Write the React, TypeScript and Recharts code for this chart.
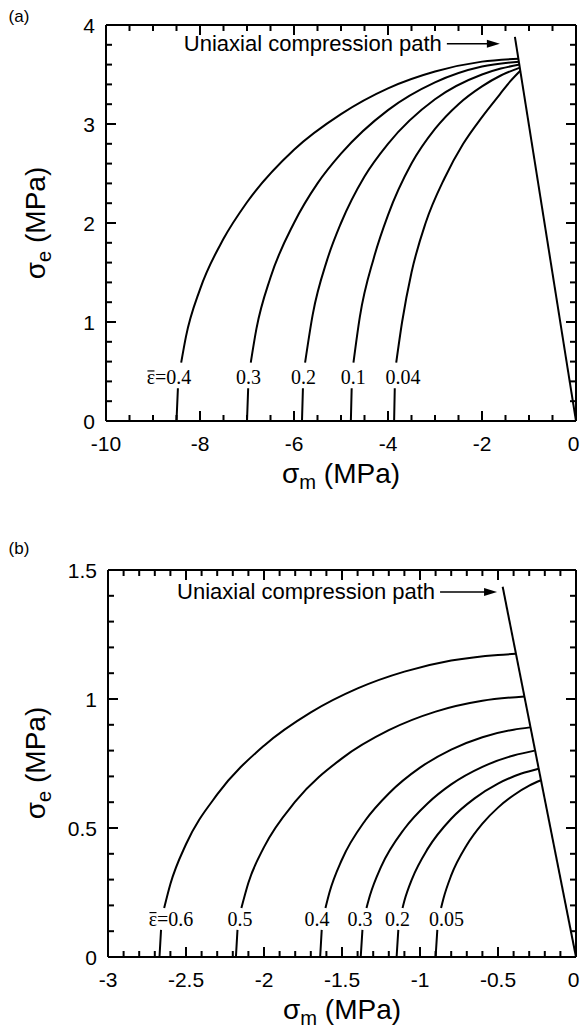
import { LineChart, Line, XAxis, YAxis, ReferenceDot } from 'recharts';

type Pt = [number, number] | null;

// ---- panel (a) ----
const aStrain = ['0.4', '0.3', '0.2', '0.1', '0.04'];
const aCurve04: Pt[] = [
  [-8.5, 0], [-8.47, 0.33], null, [-8.4, 0.59], [-8.3, 0.85], [-8.0, 1.33], [-7.5, 1.84],
  [-7.0, 2.21], [-6.0, 2.74], [-5.0, 3.1], [-4.0, 3.36], [-3.0, 3.53], [-2.0, 3.63], [-1.22, 3.66],
];
const aCurve03: Pt[] = [
  [-7.0, 0], [-6.975, 0.33], null, [-6.92, 0.59], [-6.8, 0.93], [-6.5, 1.45], [-6.0, 2.0],
  [-5.5, 2.4], [-5.0, 2.7], [-4.0, 3.14], [-3.0, 3.42], [-2.0, 3.58], [-1.21, 3.63],
];
const aCurve02: Pt[] = [
  [-5.83, 0], [-5.81, 0.33], null, [-5.764, 0.59], [-5.6, 1.08], [-5.3, 1.62], [-5.0, 2.0],
  [-4.5, 2.47], [-4.0, 2.8], [-3.0, 3.25], [-2.0, 3.5], [-1.6, 3.56], [-1.2, 3.6],
];
const aCurve01: Pt[] = [
  [-4.79, 0], [-4.773, 0.33], null, [-4.735, 0.59], [-4.6, 1.05], [-4.3, 1.65], [-4.0, 2.08],
  [-3.5, 2.6], [-3.0, 2.95], [-2.5, 3.2], [-2.0, 3.38], [-1.6, 3.49], [-1.19, 3.57],
];
const aCurve004: Pt[] = [
  [-3.87, 0], [-3.856, 0.33], null, [-3.825, 0.59], [-3.7, 1.0], [-3.5, 1.5], [-3.2, 2.0],
  [-2.8, 2.45], [-2.4, 2.8], [-2.0, 3.07], [-1.62, 3.3], [-1.4, 3.43], [-1.18, 3.54],
];
const aLabelX = [-8.66, -6.97, -5.8, -4.74, -3.68];
const aLabelY = 0.44;
const aPath: Pt[] = [[0, 0], [-1.3, 3.88]];
const aNote = [-1.62, 3.81];
const aXMajor = [-10, -8, -6, -4, -2, 0];
const aYMajor = [0, 1, 2, 3, 4];

// ---- panel (b) ----
const bStrain = ['0.6', '0.5', '0.4', '0.3', '0.2', '0.05'];
const bCurve06: Pt[] = [
  [-2.67, 0], [-2.66, 0.105], null, [-2.64, 0.19], [-2.6, 0.283], [-2.5, 0.437], [-2.3, 0.63],
  [-2.0, 0.819], [-1.7, 0.948], [-1.4, 1.041], [-1.1, 1.106], [-0.8, 1.149], [-0.5, 1.171], [-0.385, 1.175],
];
const bCurve05: Pt[] = [
  [-2.18, 0], [-2.17, 0.105], null, [-2.145, 0.19], [-2.1, 0.288], [-2.0, 0.426], [-1.8, 0.602],
  [-1.5, 0.77], [-1.2, 0.879], [-0.9, 0.951], [-0.6, 0.993], [-0.33, 1.01],
];
const bCurve04: Pt[] = [
  [-1.64, 0], [-1.63, 0.105], null, [-1.606, 0.19], [-1.58, 0.251], [-1.5, 0.378], [-1.35, 0.53],
  [-1.2, 0.634], [-1.0, 0.734], [-0.8, 0.804], [-0.6, 0.852], [-0.4, 0.881], [-0.295, 0.89],
];
const bCurve03: Pt[] = [
  [-1.38, 0], [-1.369, 0.105], null, [-1.343, 0.19], [-1.32, 0.24], [-1.25, 0.349], [-1.1, 0.497],
  [-0.95, 0.596], [-0.8, 0.669], [-0.6, 0.737], [-0.4, 0.781], [-0.265, 0.8],
];
const bCurve02: Pt[] = [
  [-1.15, 0], [-1.139, 0.105], null, [-1.112, 0.19], [-1.1, 0.218], [-1.05, 0.304], [-0.95, 0.42],
  [-0.8, 0.536], [-0.65, 0.615], [-0.5, 0.672], [-0.35, 0.711], [-0.24, 0.73],
];
const bCurve005: Pt[] = [
  [-0.9, 0], [-0.889, 0.105], null, [-0.865, 0.19], [-0.85, 0.226], [-0.8, 0.316], [-0.7, 0.434],
  [-0.6, 0.517], [-0.5, 0.579], [-0.4, 0.627], [-0.3, 0.664], [-0.225, 0.685],
];
const bLabelX = [-2.596, -2.154, -1.66, -1.385, -1.144, -0.83];
const bLabelY = 0.147;
const bPath: Pt[] = [[0, 0], [-0.47, 1.435]];
const bNote = [-0.506, 1.415];
const bXMajor = [-3, -2.5, -2, -1.5, -1, -0.5, 0];
const bYMajor = [0, 0.5, 1, 1.5];

const SANS = '"Liberation Sans", Arial, Helvetica, sans-serif';
const SERIF = '"Liberation Serif", "Times New Roman", serif';
const M = 2; // tick margin
const PAGE_W = 580;
const STRAIN_FS = 20;

function toRows(pts: Pt[]) {
  const rows: { x: number; y: number | null }[] = [];
  let lastX = 0;
  for (const p of pts) {
    if (p) {
      rows.push({ x: p[0], y: p[1] });
      lastX = p[0];
    } else {
      rows.push({ x: lastX, y: null });
    }
  }
  return rows;
}

function withMinor(major: number[], step: number) {
  const out: number[] = [];
  const n = Math.round((major[major.length - 1] - major[0]) / step);
  for (let i = 0; i <= n; i++) out.push(Math.round((major[0] + i * step) * 1e6) / 1e6);
  return out;
}

const isIn = (list: number[], v: number) => list.some((m) => Math.abs(m - v) < 1e-6);

// labels on the outer axes
function labelTick(side: 'bottom' | 'left') {
  return (p: any) => {
    const label = String(p.payload.value);
    if (side === 'bottom') {
      const lx = Math.min(p.x, PAGE_W - label.length * 6.5);
      return (
        <text x={lx} y={p.y - M + 22} textAnchor="middle" dominantBaseline="central" fontSize={21} fontFamily={SANS} fill="#000">
          {label}
        </text>
      );
    }
    return (
      <text x={p.x + M - 11} y={p.y} textAnchor="end" dominantBaseline="central" fontSize={21} fontFamily={SANS} fill="#000">
        {label}
      </text>
    );
  };
}

// inward tick mark at a frame position, drawn as a small filled bar
function markShape(dir: 'up' | 'down' | 'right' | 'left', len: number) {
  return (p: any) => {
    const cx = Number(p.cx);
    const cy = Number(p.cy);
    const t = 2;
    if (dir === 'up') return <rect x={cx - t / 2} y={cy - len} width={t} height={len} fill="#000" />;
    if (dir === 'down') return <rect x={cx - t / 2} y={cy} width={t} height={len} fill="#000" />;
    if (dir === 'right') return <rect x={cx} y={cy - t / 2} width={len} height={t} fill="#000" />;
    return <rect x={cx - len} y={cy - t / 2} width={len} height={t} fill="#000" />;
  };
}

function NoteShape(len: number) {
  return (p: any) => {
    const { cx, cy } = p;
    return (
      <g>
        <line x1={cx - len} y1={cy} x2={cx - 10} y2={cy} stroke="#000" strokeWidth={1.6} />
        <polygon points={`${cx},${cy} ${cx - 13},${cy - 4} ${cx - 13},${cy + 4}`} fill="#000" />
        <text x={cx - len - 5} y={cy} textAnchor="end" dominantBaseline="central" fontSize={22} fontFamily={SANS} fill="#000">
          Uniaxial compression path
        </text>
      </g>
    );
  };
}

// first label carries the "ε̄=" prefix; the bar over the epsilon is a short line
function StrainShape(value: string, first: boolean) {
  return (p: any) => {
    if (!first) {
      return (
        <text x={p.cx} y={p.cy} textAnchor="middle" dominantBaseline="central" fontSize={STRAIN_FS} fontFamily={SERIF} fill="#000">
          {value}
        </text>
      );
    }
    const w = (0.44 + 0.564 + value.length * 0.5 - (value.includes('.') ? 0.25 : 0)) * STRAIN_FS;
    const left = p.cx - w / 2;
    return (
      <g>
        <line x1={left + 1} y1={p.cy - 6.5} x2={left + 8} y2={p.cy - 6.5} stroke="#000" strokeWidth={1.2} />
        <text x={p.cx} y={p.cy} textAnchor="middle" dominantBaseline="central" fontSize={STRAIN_FS} fontFamily={SERIF} fill="#000">
          ε={value}
        </text>
      </g>
    );
  };
}

type PanelProps = {
  curves: Pt[][];
  path: Pt[];
  strain: string[];
  labelX: number[];
  labelY: number;
  note: number[];
  noteLen: number;
  xMajor: number[];
  xStep: number;
  yMajor: number[];
  yStep: number;
  height: number;
  margin: { top: number; right: number; bottom: number; left: number };
};

function Panel(props: PanelProps) {
  const { curves, path, strain, labelX, labelY, note, noteLen, xMajor, xStep, yMajor, yStep, height, margin } = props;
  const x0 = xMajor[0];
  const x1 = xMajor[xMajor.length - 1];
  const y0 = yMajor[0];
  const y1 = yMajor[yMajor.length - 1];
  const xDom: [number, number] = [x0, x1];
  const yDom: [number, number] = [y0, y1];
  const xTicks = withMinor(xMajor, xStep);
  const yTicks = withMinor(yMajor, yStep);
  const axisLine = { stroke: '#000', strokeWidth: 2 };
  const base = { type: 'number' as const, interval: 0 as const, allowDataOverflow: true, tickSize: 0, tickMargin: M, tickLine: false };
  const mk = (major: number[], v: number) => (isIn(major, v) ? 10 : 6);
  return (
    <LineChart width={PAGE_W} height={height} margin={margin}>
      <XAxis dataKey="x" domain={xDom} ticks={xMajor} height={40} axisLine={axisLine} tick={labelTick('bottom')} {...base} />
      <YAxis domain={yDom} ticks={yMajor} width={50} axisLine={axisLine} tick={labelTick('left')} {...base} />
      <XAxis xAxisId="tm" orientation="top" mirror domain={xDom} ticks={xMajor} height={1} axisLine={axisLine} tick={false} {...base} />
      <YAxis yAxisId="rm" orientation="right" mirror domain={yDom} ticks={yMajor} width={1} axisLine={axisLine} tick={false} {...base} />
      {curves.map((c, i) => (
        <Line key={i} data={toRows(c)} dataKey="y" type="monotone" stroke="#000" strokeWidth={2}
          dot={false} activeDot={false} isAnimationActive={false} />
      ))}
      <Line data={toRows(path)} dataKey="y" type="linear" stroke="#000" strokeWidth={2}
        dot={false} activeDot={false} isAnimationActive={false} />
      {/* inward tick marks on all four sides of the frame */}
      {xTicks.map((v) => (
        <ReferenceDot key={`b${v}`} x={v} y={y0} r={1} ifOverflow="visible" shape={markShape('up', mk(xMajor, v))} />
      ))}
      {xTicks.map((v) => (
        <ReferenceDot key={`t${v}`} x={v} y={y1} r={1} ifOverflow="visible" shape={markShape('down', mk(xMajor, v))} />
      ))}
      {yTicks.map((v) => (
        <ReferenceDot key={`l${v}`} x={x0} y={v} r={1} ifOverflow="visible" shape={markShape('right', mk(yMajor, v))} />
      ))}
      {yTicks.map((v) => (
        <ReferenceDot key={`r${v}`} x={x1} y={v} r={1} ifOverflow="visible" shape={markShape('left', mk(yMajor, v))} />
      ))}
      {strain.map((s, i) => (
        <ReferenceDot key={s} x={labelX[i]} y={labelY} r={0} ifOverflow="visible" shape={StrainShape(s, i === 0)} />
      ))}
      <ReferenceDot x={note[0]} y={note[1]} r={0} ifOverflow="visible" shape={NoteShape(noteLen)} />
    </LineChart>
  );
}

const titleStyle: React.CSSProperties = {
  position: 'absolute',
  fontFamily: SANS,
  fontSize: 28,
  whiteSpace: 'nowrap',
  color: '#000',
  lineHeight: 1,
};

function Title({ x, y, sym, sub, rotate }: { x: number; y: number; sym: string; sub: string; rotate?: boolean }) {
  return (
    <div style={{ ...titleStyle, left: x, top: y, transform: `translate(-50%, -50%)${rotate ? ' rotate(-90deg)' : ''}` }}>
      {sym}
      <span style={{ fontSize: '0.72em', position: 'relative', top: '0.3em' }}>{sub}</span> (MPa)
    </div>
  );
}

export default function App() {
  return (
    <div style={{ position: 'absolute', left: 0, top: 0, width: PAGE_W, height: 1036, background: '#fff', overflow: 'hidden' }}>
      <div style={{ position: 'absolute', left: 0, top: 0 }}>
        <Panel
          curves={[aCurve04, aCurve03, aCurve02, aCurve01, aCurve004]}
          path={aPath}
          strain={aStrain}
          labelX={aLabelX}
          labelY={aLabelY}
          note={aNote}
          noteLen={53}
          xMajor={aXMajor}
          xStep={0.5}
          yMajor={aYMajor}
          yStep={0.2}
          height={500}
          margin={{ top: 25, right: 4, bottom: 39, left: 56 }}
        />
      </div>
      <div style={{ position: 'absolute', left: 0, top: 530 }}>
        <Panel
          curves={[bCurve06, bCurve05, bCurve04, bCurve03, bCurve02, bCurve005]}
          path={bPath}
          strain={bStrain}
          labelX={bLabelX}
          labelY={bLabelY}
          note={bNote}
          noteLen={57}
          xMajor={bXMajor}
          xStep={0.1}
          yMajor={bYMajor}
          yStep={0.1}
          height={506}
          margin={{ top: 40, right: 4, bottom: 39, left: 58 }}
        />
      </div>
      <div style={{ position: 'absolute', left: 19, top: 16, transform: 'translate(-50%, -50%)', fontFamily: SANS, fontSize: 17, lineHeight: 1 }}>(a)</div>
      <div style={{ position: 'absolute', left: 19, top: 548, transform: 'translate(-50%, -50%)', fontFamily: SANS, fontSize: 17, lineHeight: 1 }}>(b)</div>
      <Title x={341} y={474} sym="σ" sub="m" />
      <Title x={36} y={223} sym="σ" sub="e" rotate />
      <Title x={342} y={1010} sym="σ" sub="m" />
      <Title x={36} y={763} sym="σ" sub="e" rotate />
    </div>
  );
}
